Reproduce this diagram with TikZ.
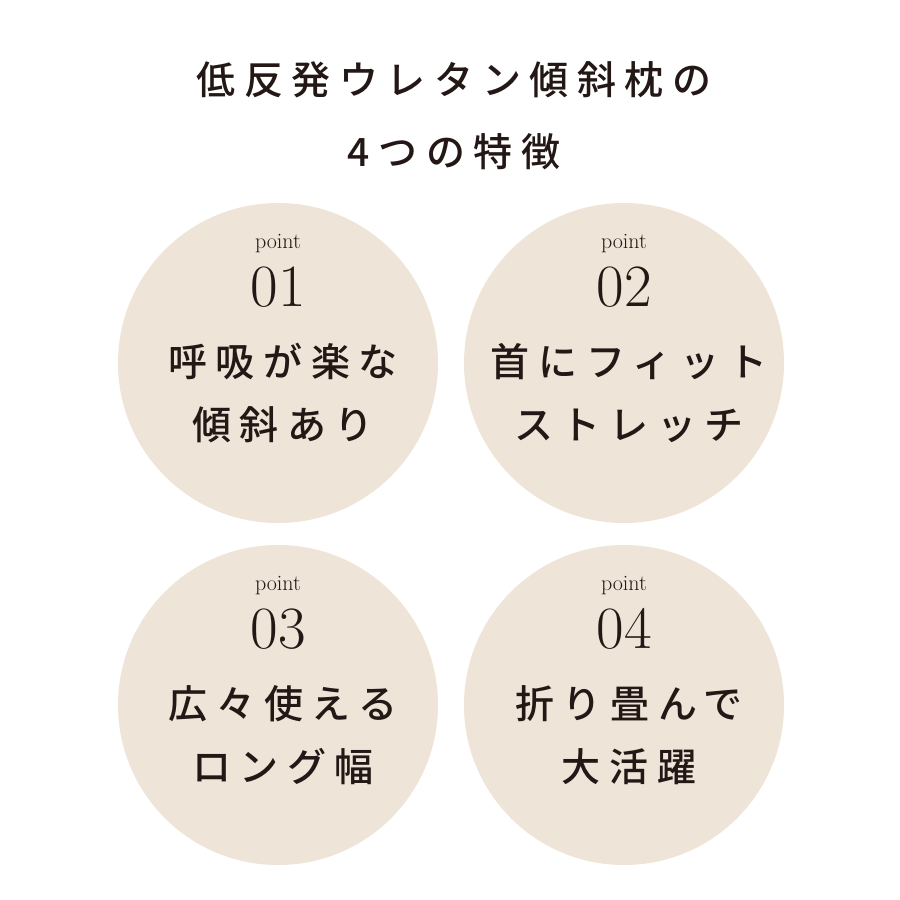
\documentclass[tikz,border=0pt]{standalone}
\usepackage{fontspec}
\newfontfamily\jpfont[LetterSpace=22]{Noto Sans CJK JP Medium}
\usepackage{tikz}
\definecolor{beige}{HTML}{EEE4D8}
\definecolor{ink}{HTML}{231815}
\tikzset{
  disc/.style={circle, fill=beige, minimum size=320pt, inner sep=0pt},
  pointlbl/.style={text=ink, font=\fontsize{22}{22}\selectfont},
  numlbl/.style={text=ink, font=\fontsize{60}{60}\selectfont},
  featlbl/.style={text=ink, align=center, font=\jpfont\fontsize{39}{63}\selectfont},
  titlelbl/.style={text=ink, align=center, font=\jpfont\fontsize{39}{72}\selectfont}
}
\begin{document}
\begin{tikzpicture}[x=1pt, y=-1pt]
    \useasboundingbox[fill=white] (0,0) rectangle (900,900);
    % title
    \node[titlelbl] (title) at (454,116){低反発ウレタン傾斜枕の\\4つの特徴};

    % circles
    \foreach \cx/\cy/\num/\txt/\nm in {
        278/363/01/{呼吸が楽な\\傾斜あり}/a,
        624/363/02/{首にフィット\\ストレッチ}/b,
        278/705/03/{広々使える\\ロング幅}/c,
        624/705/04/{折り畳んで\\大活躍}/d}{
      \node[disc] (disc\nm) at (\cx,\cy){};
      \node[pointlbl] (point\nm) at (\cx,\cy-119){point};
      \node[numlbl] (num\nm) at (\cx,\cy-76){\num};
      \node[featlbl] (feat\nm) at (\cx+5,\cy+30){\txt};
    }
\end{tikzpicture}
\end{document}
